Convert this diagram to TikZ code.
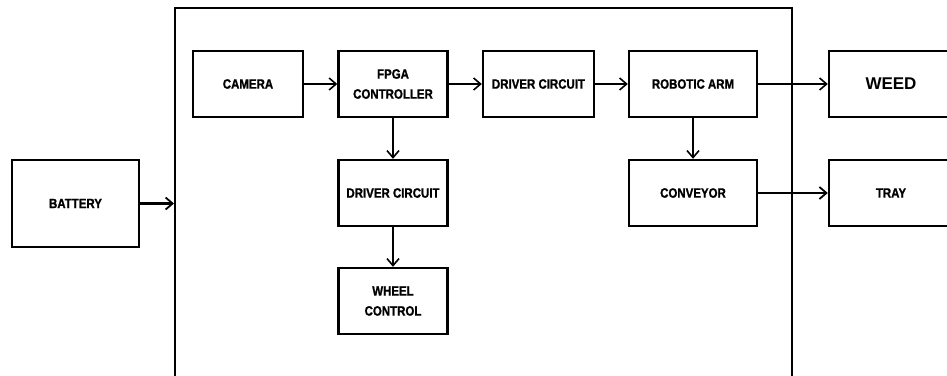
\documentclass[tikz,border=0pt]{standalone}
\usepackage{fontspec}
\setmainfont{Liberation Sans}
\newfontfamily\labfont[FakeStretch=0.85,FakeBold=1.2]{Liberation Sans Bold}
\newfontfamily\bigfont{Liberation Sans Bold}
\usetikzlibrary{arrows.meta}
\begin{document}
\begin{tikzpicture}[x=1pt,y=-1pt,
  blk/.style={draw=black, line width=2.4pt, rectangle, inner sep=0pt, align=center,
    font=\labfont\fontsize{13.5}{20}\selectfont},
  conn/.style={line width=1.5pt, -{Straight Barb[length=7pt,width=12pt,line width=1.6pt]}},
  thickconn/.style={line width=2.6pt, -{Straight Barb[length=7pt,width=12pt,line width=1.8pt]}}]
\useasboundingbox (0,0) rectangle (947,375);
\clip (0,0) rectangle (947,375);
% frame
\node[draw=black, line width=2pt, inner sep=0pt, minimum width=617pt, minimum height=420pt] (frame) at (483.5,218) {};
% blocks
\node[blk, minimum width=127pt, minimum height=87pt] (battery) at (75.5,203.5) {BATTERY};
\node[blk, minimum width=110pt, minimum height=66pt] (camera) at (248,84) {CAMERA};
\node[blk, minimum width=109pt, minimum height=66pt] (fpga) at (393,84) {FPGA\\CONTROLLER};
\node[blk, minimum width=109pt, minimum height=66pt] (drv2) at (393,193) {DRIVER CIRCUIT};
\node[blk, minimum width=109pt, minimum height=66pt] (wheel) at (393,301) {WHEEL\\CONTROL};
\node[blk, minimum width=111pt, minimum height=66pt] (drv1) at (538.5,84) {DRIVER CIRCUIT};
\node[blk, minimum width=128pt, minimum height=66pt] (arm) at (693,84) {ROBOTIC ARM};
\node[blk, minimum width=128pt, minimum height=66pt] (conv) at (693,193) {CONVEYOR};
\node[blk, minimum width=124pt, minimum height=66pt, font=\bigfont\fontsize{17}{20}\selectfont] (weed) at (891,84) {WEED};
\node[blk, minimum width=124pt, minimum height=66pt] (tray) at (891,193) {TRAY};
% connectors
\draw[thickconn] (battery.east) -- (frame.west |- battery.east);
\draw[conn] (camera) -- (fpga);
\draw[conn] (fpga) -- (drv1);
\draw[conn] (drv1) -- (arm);
\draw[conn] (arm) -- (weed);
\draw[conn] (fpga) -- (drv2);
\draw[conn] (drv2) -- (wheel);
\draw[conn] (arm) -- (conv);
\draw[thickconn] (conv) -- (tray);
\end{tikzpicture}
\end{document}
